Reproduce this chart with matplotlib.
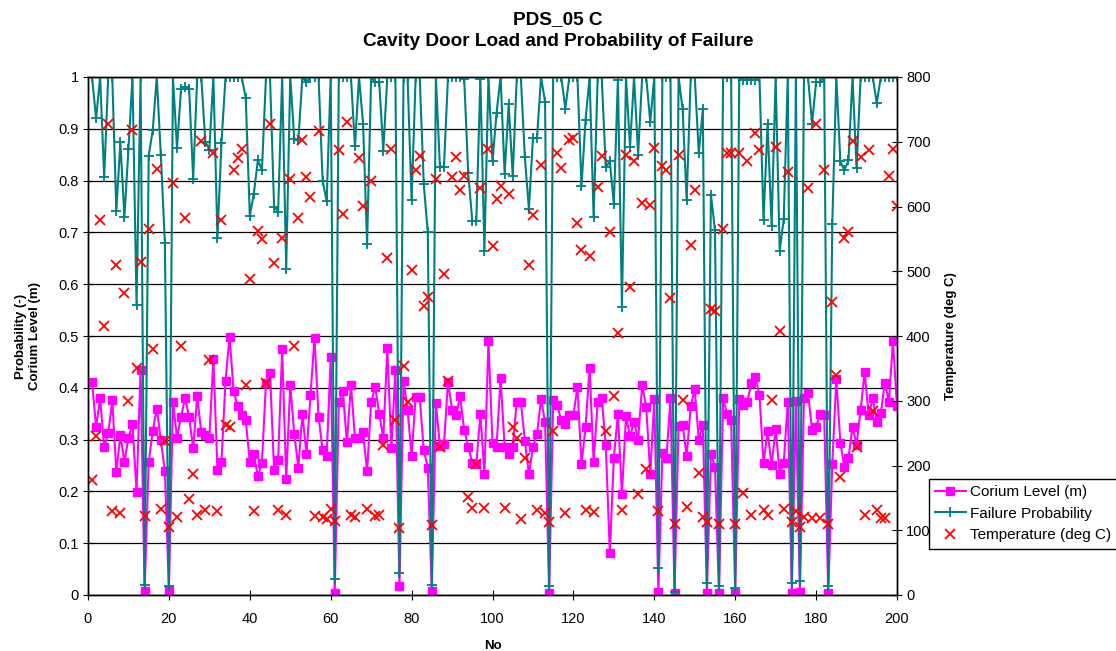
import numpy as np
import matplotlib.pyplot as plt
from matplotlib.lines import Line2D

plt.rcParams['font.family'] = ['Liberation Sans', 'DejaVu Sans']

# run number 1..200
run_no = np.arange(1, 201)

# corium level (m), left axis
corium_level = [
    0.412, 0.324, 0.380, 0.285, 0.312, 0.376, 0.238, 0.308, 0.257, 0.303,
    0.330, 0.199, 0.434, 0.008, 0.257, 0.316, 0.360, 0.299, 0.240, 0.010,
    0.373, 0.304, 0.344, 0.380, 0.344, 0.283, 0.384, 0.314, 0.308, 0.303,
    0.456, 0.242, 0.257, 0.414, 0.499, 0.393, 0.364, 0.347, 0.337, 0.257,
    0.272, 0.229, 0.255, 0.410, 0.428, 0.242, 0.260, 0.474, 0.223, 0.406,
    0.310, 0.246, 0.350, 0.272, 0.386, 0.497, 0.344, 0.280, 0.268, 0.459,
    0.004, 0.373, 0.393, 0.295, 0.406, 0.304, 0.304, 0.314, 0.239, 0.373,
    0.401, 0.350, 0.303, 0.476, 0.283, 0.435, 0.017, 0.414, 0.358, 0.268,
    0.383, 0.383, 0.280, 0.246, 0.007, 0.370, 0.288, 0.291, 0.412, 0.358,
    0.347, 0.384, 0.319, 0.286, 0.255, 0.253, 0.349, 0.234, 0.491, 0.293,
    0.286, 0.419, 0.286, 0.273, 0.286, 0.373, 0.373, 0.298, 0.233, 0.285,
    0.311, 0.378, 0.334, 0.004, 0.376, 0.366, 0.337, 0.330, 0.347, 0.347,
    0.402, 0.253, 0.324, 0.438, 0.257, 0.373, 0.380, 0.290, 0.082, 0.265,
    0.350, 0.195, 0.345, 0.306, 0.334, 0.299, 0.406, 0.362, 0.234, 0.378,
    0.005, 0.275, 0.265, 0.380, 0.004, 0.327, 0.329, 0.268, 0.364, 0.397,
    0.299, 0.329, 0.004, 0.272, 0.247, 0.003, 0.380, 0.349, 0.337, 0.004,
    0.378, 0.366, 0.373, 0.410, 0.421, 0.386, 0.255, 0.316, 0.251, 0.321,
    0.234, 0.255, 0.373, 0.004, 0.375, 0.006, 0.380, 0.390, 0.319, 0.325,
    0.349, 0.347, 0.004, 0.253, 0.417, 0.293, 0.247, 0.264, 0.325, 0.290,
    0.357, 0.430, 0.347, 0.380, 0.334, 0.351, 0.410, 0.373, 0.490, 0.364,
]

# failure probability (-), left axis
failure_prob = [
    1.000, 0.920, 1.000, 0.806, 1.000, 1.000, 0.742, 0.874, 0.730, 0.861,
    1.000, 0.559, 1.000, 0.020, 0.848, 0.897, 1.000, 0.850, 0.680, 0.017,
    1.000, 0.863, 0.977, 0.980, 0.977, 0.804, 1.000, 1.000, 0.875, 0.860,
    1.000, 0.690, 0.873, 1.000, 1.000, 1.000, 1.000, 1.000, 0.959, 0.732,
    0.775, 0.840, 0.820, 1.000, 1.000, 0.750, 0.740, 1.000, 0.630, 1.000,
    0.880, 0.878, 1.000, 0.990, 1.000, 1.000, 1.000, 0.800, 0.760, 1.000,
    0.030, 1.000, 1.000, 1.000, 1.000, 0.866, 1.000, 0.910, 0.678, 1.000,
    0.990, 0.990, 0.858, 1.000, 1.000, 1.000, 0.043, 1.000, 1.000, 0.762,
    1.000, 1.000, 0.794, 0.700, 0.020, 1.000, 0.827, 0.827, 1.000, 1.000,
    1.000, 1.000, 0.997, 0.814, 0.722, 0.722, 0.997, 0.664, 1.000, 0.837,
    0.931, 1.000, 0.813, 0.948, 0.809, 1.000, 1.000, 0.845, 0.745, 0.882,
    0.882, 1.000, 0.952, 0.017, 1.000, 1.000, 1.000, 0.939, 1.000, 1.000,
    1.000, 0.789, 0.917, 1.000, 0.729, 1.000, 1.000, 0.826, 0.837, 0.755,
    0.995, 0.556, 1.000, 0.865, 1.000, 0.850, 1.000, 1.000, 0.913, 1.000,
    0.053, 1.000, 1.000, 1.000, 0.005, 1.000, 0.938, 0.762, 1.000, 1.000,
    0.853, 0.938, 0.024, 0.773, 0.704, 0.017, 1.000, 1.000, 1.000, 0.014,
    1.000, 0.995, 0.995, 0.995, 0.995, 1.000, 0.724, 0.909, 0.713, 1.000,
    0.664, 0.726, 1.000, 0.024, 1.000, 0.027, 1.000, 1.000, 0.910, 0.990,
    0.990, 1.000, 0.017, 0.717, 1.000, 0.837, 0.820, 0.839, 1.000, 0.824,
    1.000, 1.000, 1.000, 1.000, 0.950, 1.000, 1.000, 1.000, 1.000, 1.000,
]

# temperature (deg C), right axis
temperature = [
    177, 246, 579, 415, 728, 129, 509, 127, 467, 300,
    718, 351, 514, 122, 566, 380, 658, 133, 238, 105,
    636, 121, 385, 582, 148, 187, 124, 701, 131, 363,
    683, 129, 579, 262, 259, 657, 675, 689, 325, 488,
    129, 562, 550, 327, 727, 513, 131, 552, 124, 643,
    385, 583, 702, 645, 614, 122, 716, 121, 118, 133,
    115, 688, 588, 730, 124, 120, 675, 601, 133, 640,
    122, 124, 232, 520, 689, 270, 103, 354, 298, 502,
    656, 678, 447, 460, 108, 643, 228, 495, 330, 645,
    676, 625, 647, 152, 134, 202, 628, 134, 689, 539,
    612, 631, 135, 620, 260, 242, 117, 211, 510, 587,
    131, 664, 126, 112, 254, 682, 659, 126, 702, 706,
    574, 533, 131, 523, 128, 630, 678, 254, 560, 307,
    404, 131, 680, 476, 671, 156, 605, 195, 603, 690,
    130, 663, 656, 458, 109, 680, 301, 136, 541, 626,
    189, 121, 112, 442, 439, 110, 565, 683, 683, 110,
    683, 157, 671, 124, 713, 687, 131, 124, 301, 692,
    407, 133, 654, 113, 129, 105, 121, 629, 119, 728,
    119, 657, 110, 452, 340, 183, 551, 560, 701, 229,
    676, 124, 688, 284, 131, 119, 119, 647, 689, 601,
]

fig = plt.figure(figsize=(11.16, 6.51), dpi=100)
ax = fig.add_axes([88/1116, 56/651, 809/1116, 518/651])
ax2 = ax.twinx()

ax.plot(run_no, corium_level, color='#FF00FF', lw=1.5, marker='s', ms=6,
        label='Corium Level (m)', zorder=3)
ax.plot(run_no, failure_prob, color='#008080', lw=1.5, marker='+', ms=7,
        mew=1.3, label='Failure Probability', zorder=4)
ax2.plot(run_no, temperature, ls='none', marker='x', color='#FF0000', ms=6.5,
         mew=1.3, label='Temperature (deg C)')

ax.set_xlim(0, 200)
ax.set_ylim(0, 1)
ax2.set_ylim(0, 800)
ax.set_xticks(np.arange(0, 201, 20))
ax.set_yticks(np.arange(0, 1.01, 0.1))
ax.set_yticklabels(['0', '0.1', '0.2', '0.3', '0.4', '0.5', '0.6', '0.7', '0.8', '0.9', '1'])
ax2.set_yticks(np.arange(0, 801, 100))

ax.yaxis.grid(True, color='black', lw=0.9)
ax.set_axisbelow(True)
ax.tick_params(axis='y', labelsize=10.5, direction='inout', length=7, pad=3)
ax.tick_params(axis='x', labelsize=10.5, direction='inout', length=7, pad=9)
ax2.tick_params(axis='y', labelsize=10.5, direction='inout', length=7, pad=3)
for sp in list(ax.spines.values()) + list(ax2.spines.values()):
    sp.set_color('black')
    sp.set_linewidth(1)

ax.set_xlabel('No', fontsize=9.5, fontweight='bold', labelpad=10)
ax.set_ylabel('Probability (-)\nCorium Level (m)', fontsize=9.5, fontweight='bold', labelpad=13)
ax2.set_ylabel('Temperature (deg C)', fontsize=9.5, fontweight='bold', labelpad=10)

fig.text(0.5, 1 - 20/651, 'PDS_05 C', ha='center', va='center',
         fontsize=13.7, fontweight='bold')
fig.text(0.5, 1 - 42/651, 'Cavity Door Load and Probability of Failure',
         ha='center', va='center', fontsize=13.7, fontweight='bold')

handles = [
    Line2D([], [], color='#FF00FF', lw=1.5, marker='s', ms=6),
    Line2D([], [], color='#008080', lw=1.5, marker='+', ms=7, mew=1.3),
    Line2D([], [], ls='none', color='#FF0000', marker='x', ms=6.5, mew=1.3),
]
labels = ['Corium Level (m)', 'Failure Probability', 'Temperature (deg C)']
leg = fig.legend(handles, labels, loc='upper left',
                 bbox_to_anchor=(929/1116, 1 - 479/651), borderaxespad=0,
                 fontsize=11, frameon=True, fancybox=False, handlelength=2.0,
                 handletextpad=0.3, labelspacing=0.5, borderpad=0.4)
leg.get_frame().set_edgecolor('black')
leg.get_frame().set_linewidth(1)
leg.get_frame().set_alpha(1)

plt.savefig('out.png', dpi=100)
